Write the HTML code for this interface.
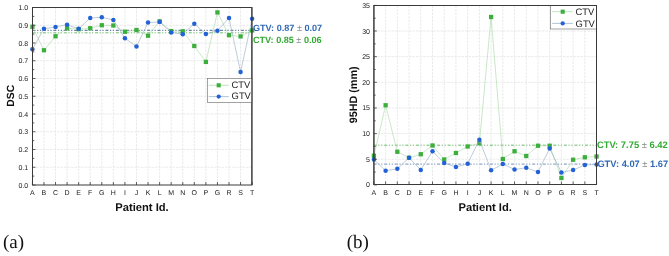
<!DOCTYPE html>
<html><head><meta charset="utf-8"><style>
html,body{margin:0;padding:0;background:#fff;width:669px;height:256px;overflow:hidden}
svg{display:block;font-family:"Liberation Sans",sans-serif;will-change:transform;text-rendering:geometricPrecision}
</style></head><body>
<svg width="669" height="256" viewBox="0 0 669 256">
<rect width="669" height="256" fill="#fff"/>
<line x1="43.96" y1="7.5" x2="43.96" y2="185.0" stroke="#e5e5e5" stroke-width="0.8" stroke-dasharray="2.5 1"/>
<line x1="55.53" y1="7.5" x2="55.53" y2="185.0" stroke="#e5e5e5" stroke-width="0.8" stroke-dasharray="2.5 1"/>
<line x1="67.09" y1="7.5" x2="67.09" y2="185.0" stroke="#e5e5e5" stroke-width="0.8" stroke-dasharray="2.5 1"/>
<line x1="78.66" y1="7.5" x2="78.66" y2="185.0" stroke="#e5e5e5" stroke-width="0.8" stroke-dasharray="2.5 1"/>
<line x1="90.22" y1="7.5" x2="90.22" y2="185.0" stroke="#e5e5e5" stroke-width="0.8" stroke-dasharray="2.5 1"/>
<line x1="101.79" y1="7.5" x2="101.79" y2="185.0" stroke="#e5e5e5" stroke-width="0.8" stroke-dasharray="2.5 1"/>
<line x1="113.35" y1="7.5" x2="113.35" y2="185.0" stroke="#e5e5e5" stroke-width="0.8" stroke-dasharray="2.5 1"/>
<line x1="124.92" y1="7.5" x2="124.92" y2="185.0" stroke="#e5e5e5" stroke-width="0.8" stroke-dasharray="2.5 1"/>
<line x1="136.48" y1="7.5" x2="136.48" y2="185.0" stroke="#e5e5e5" stroke-width="0.8" stroke-dasharray="2.5 1"/>
<line x1="148.05" y1="7.5" x2="148.05" y2="185.0" stroke="#e5e5e5" stroke-width="0.8" stroke-dasharray="2.5 1"/>
<line x1="159.61" y1="7.5" x2="159.61" y2="185.0" stroke="#e5e5e5" stroke-width="0.8" stroke-dasharray="2.5 1"/>
<line x1="171.18" y1="7.5" x2="171.18" y2="185.0" stroke="#e5e5e5" stroke-width="0.8" stroke-dasharray="2.5 1"/>
<line x1="182.75" y1="7.5" x2="182.75" y2="185.0" stroke="#e5e5e5" stroke-width="0.8" stroke-dasharray="2.5 1"/>
<line x1="194.31" y1="7.5" x2="194.31" y2="185.0" stroke="#e5e5e5" stroke-width="0.8" stroke-dasharray="2.5 1"/>
<line x1="205.88" y1="7.5" x2="205.88" y2="185.0" stroke="#e5e5e5" stroke-width="0.8" stroke-dasharray="2.5 1"/>
<line x1="217.44" y1="7.5" x2="217.44" y2="185.0" stroke="#e5e5e5" stroke-width="0.8" stroke-dasharray="2.5 1"/>
<line x1="229.00" y1="7.5" x2="229.00" y2="185.0" stroke="#e5e5e5" stroke-width="0.8" stroke-dasharray="2.5 1"/>
<line x1="240.57" y1="7.5" x2="240.57" y2="185.0" stroke="#e5e5e5" stroke-width="0.8" stroke-dasharray="2.5 1"/>
<line x1="32.5" y1="167.25" x2="251.9" y2="167.25" stroke="#e5e5e5" stroke-width="0.8" stroke-dasharray="2.5 1"/>
<line x1="32.5" y1="149.50" x2="251.9" y2="149.50" stroke="#e5e5e5" stroke-width="0.8" stroke-dasharray="2.5 1"/>
<line x1="32.5" y1="131.75" x2="251.9" y2="131.75" stroke="#e5e5e5" stroke-width="0.8" stroke-dasharray="2.5 1"/>
<line x1="32.5" y1="114.00" x2="251.9" y2="114.00" stroke="#e5e5e5" stroke-width="0.8" stroke-dasharray="2.5 1"/>
<line x1="32.5" y1="96.25" x2="251.9" y2="96.25" stroke="#e5e5e5" stroke-width="0.8" stroke-dasharray="2.5 1"/>
<line x1="32.5" y1="78.50" x2="251.9" y2="78.50" stroke="#e5e5e5" stroke-width="0.8" stroke-dasharray="2.5 1"/>
<line x1="32.5" y1="60.75" x2="251.9" y2="60.75" stroke="#e5e5e5" stroke-width="0.8" stroke-dasharray="2.5 1"/>
<line x1="32.5" y1="43.00" x2="251.9" y2="43.00" stroke="#e5e5e5" stroke-width="0.8" stroke-dasharray="2.5 1"/>
<line x1="32.5" y1="25.25" x2="251.9" y2="25.25" stroke="#e5e5e5" stroke-width="0.8" stroke-dasharray="2.5 1"/>
<line x1="32.5" y1="30.30" x2="251.9" y2="30.30" stroke="#45688f" stroke-width="1" stroke-dasharray="3.000 1.600 1.200 1.600 1.200 1.820" stroke-dashoffset="0"/>
<line x1="32.5" y1="32.80" x2="251.9" y2="32.80" stroke="#6fbf6f" stroke-width="1" stroke-dasharray="3.000 1.600 1.200 1.600 1.200 1.820" stroke-dashoffset="0"/>
<polyline points="32.40,26.75 43.96,50.25 55.53,36.25 67.09,28.25 78.66,29.20 90.22,28.25 101.79,25.25 113.35,25.50 124.92,31.75 136.48,30.00 148.05,35.70 159.61,21.30 171.18,31.10 182.75,31.30 194.31,46.00 205.88,61.90 217.44,12.40 229.00,35.20 240.57,36.40 252.13,30.40" fill="none" stroke="#a6d6a6" stroke-width="0.6"/>
<rect x="30.25" y="24.60" width="4.3" height="4.3" fill="#3cae3c"/>
<rect x="41.81" y="48.10" width="4.3" height="4.3" fill="#3cae3c"/>
<rect x="53.38" y="34.10" width="4.3" height="4.3" fill="#3cae3c"/>
<rect x="64.94" y="26.10" width="4.3" height="4.3" fill="#3cae3c"/>
<rect x="76.51" y="27.05" width="4.3" height="4.3" fill="#3cae3c"/>
<rect x="88.07" y="26.10" width="4.3" height="4.3" fill="#3cae3c"/>
<rect x="99.64" y="23.10" width="4.3" height="4.3" fill="#3cae3c"/>
<rect x="111.20" y="23.35" width="4.3" height="4.3" fill="#3cae3c"/>
<rect x="122.77" y="29.60" width="4.3" height="4.3" fill="#3cae3c"/>
<rect x="134.33" y="27.85" width="4.3" height="4.3" fill="#3cae3c"/>
<rect x="145.90" y="33.55" width="4.3" height="4.3" fill="#3cae3c"/>
<rect x="157.46" y="19.15" width="4.3" height="4.3" fill="#3cae3c"/>
<rect x="169.03" y="28.95" width="4.3" height="4.3" fill="#3cae3c"/>
<rect x="180.59" y="29.15" width="4.3" height="4.3" fill="#3cae3c"/>
<rect x="192.16" y="43.85" width="4.3" height="4.3" fill="#3cae3c"/>
<rect x="203.72" y="59.75" width="4.3" height="4.3" fill="#3cae3c"/>
<rect x="215.29" y="10.25" width="4.3" height="4.3" fill="#3cae3c"/>
<rect x="226.85" y="33.05" width="4.3" height="4.3" fill="#3cae3c"/>
<rect x="238.42" y="34.25" width="4.3" height="4.3" fill="#3cae3c"/>
<rect x="249.98" y="28.25" width="4.3" height="4.3" fill="#3cae3c"/>
<polyline points="32.40,49.25 43.96,28.75 55.53,27.00 67.09,24.75 78.66,28.75 90.22,18.00 101.79,17.25 113.35,20.00 124.92,38.25 136.48,46.50 148.05,22.50 159.61,21.90 171.18,32.40 182.75,34.20 194.31,23.75 205.88,34.00 217.44,30.70 229.00,18.00 240.57,72.00 252.13,18.75" fill="none" stroke="#94a9c0" stroke-width="0.6"/>
<circle cx="32.40" cy="49.25" r="2.25" fill="#2262d6"/>
<circle cx="43.96" cy="28.75" r="2.25" fill="#2262d6"/>
<circle cx="55.53" cy="27.00" r="2.25" fill="#2262d6"/>
<circle cx="67.09" cy="24.75" r="2.25" fill="#2262d6"/>
<circle cx="78.66" cy="28.75" r="2.25" fill="#2262d6"/>
<circle cx="90.22" cy="18.00" r="2.25" fill="#2262d6"/>
<circle cx="101.79" cy="17.25" r="2.25" fill="#2262d6"/>
<circle cx="113.35" cy="20.00" r="2.25" fill="#2262d6"/>
<circle cx="124.92" cy="38.25" r="2.25" fill="#2262d6"/>
<circle cx="136.48" cy="46.50" r="2.25" fill="#2262d6"/>
<circle cx="148.05" cy="22.50" r="2.25" fill="#2262d6"/>
<circle cx="159.61" cy="21.90" r="2.25" fill="#2262d6"/>
<circle cx="171.18" cy="32.40" r="2.25" fill="#2262d6"/>
<circle cx="182.75" cy="34.20" r="2.25" fill="#2262d6"/>
<circle cx="194.31" cy="23.75" r="2.25" fill="#2262d6"/>
<circle cx="205.88" cy="34.00" r="2.25" fill="#2262d6"/>
<circle cx="217.44" cy="30.70" r="2.25" fill="#2262d6"/>
<circle cx="229.00" cy="18.00" r="2.25" fill="#2262d6"/>
<circle cx="240.57" cy="72.00" r="2.25" fill="#2262d6"/>
<circle cx="252.13" cy="18.75" r="2.25" fill="#2262d6"/>
<rect x="32.5" y="7.5" width="219.4" height="177.5" fill="none" stroke="#3a3a3a" stroke-width="1"/>
<line x1="32.5" y1="185.00" x2="35.5" y2="185.00" stroke="#3a3a3a" stroke-width="0.8"/>
<text x="28.2" y="187.50" text-anchor="end" font-size="7" fill="#222">0.0</text>
<line x1="32.5" y1="167.25" x2="35.5" y2="167.25" stroke="#3a3a3a" stroke-width="0.8"/>
<text x="28.2" y="169.75" text-anchor="end" font-size="7" fill="#222">0.1</text>
<line x1="32.5" y1="149.50" x2="35.5" y2="149.50" stroke="#3a3a3a" stroke-width="0.8"/>
<text x="28.2" y="152.00" text-anchor="end" font-size="7" fill="#222">0.2</text>
<line x1="32.5" y1="131.75" x2="35.5" y2="131.75" stroke="#3a3a3a" stroke-width="0.8"/>
<text x="28.2" y="134.25" text-anchor="end" font-size="7" fill="#222">0.3</text>
<line x1="32.5" y1="114.00" x2="35.5" y2="114.00" stroke="#3a3a3a" stroke-width="0.8"/>
<text x="28.2" y="116.50" text-anchor="end" font-size="7" fill="#222">0.4</text>
<line x1="32.5" y1="96.25" x2="35.5" y2="96.25" stroke="#3a3a3a" stroke-width="0.8"/>
<text x="28.2" y="98.75" text-anchor="end" font-size="7" fill="#222">0.5</text>
<line x1="32.5" y1="78.50" x2="35.5" y2="78.50" stroke="#3a3a3a" stroke-width="0.8"/>
<text x="28.2" y="81.00" text-anchor="end" font-size="7" fill="#222">0.6</text>
<line x1="32.5" y1="60.75" x2="35.5" y2="60.75" stroke="#3a3a3a" stroke-width="0.8"/>
<text x="28.2" y="63.25" text-anchor="end" font-size="7" fill="#222">0.7</text>
<line x1="32.5" y1="43.00" x2="35.5" y2="43.00" stroke="#3a3a3a" stroke-width="0.8"/>
<text x="28.2" y="45.50" text-anchor="end" font-size="7" fill="#222">0.8</text>
<line x1="32.5" y1="25.25" x2="35.5" y2="25.25" stroke="#3a3a3a" stroke-width="0.8"/>
<text x="28.2" y="27.75" text-anchor="end" font-size="7" fill="#222">0.9</text>
<line x1="32.5" y1="7.50" x2="35.5" y2="7.50" stroke="#3a3a3a" stroke-width="0.8"/>
<text x="28.2" y="10.00" text-anchor="end" font-size="7" fill="#222">1.0</text>
<line x1="32.5" y1="176.12" x2="34.3" y2="176.12" stroke="#3a3a3a" stroke-width="0.8"/>
<line x1="32.5" y1="158.38" x2="34.3" y2="158.38" stroke="#3a3a3a" stroke-width="0.8"/>
<line x1="32.5" y1="140.62" x2="34.3" y2="140.62" stroke="#3a3a3a" stroke-width="0.8"/>
<line x1="32.5" y1="122.88" x2="34.3" y2="122.88" stroke="#3a3a3a" stroke-width="0.8"/>
<line x1="32.5" y1="105.12" x2="34.3" y2="105.12" stroke="#3a3a3a" stroke-width="0.8"/>
<line x1="32.5" y1="87.37" x2="34.3" y2="87.37" stroke="#3a3a3a" stroke-width="0.8"/>
<line x1="32.5" y1="69.62" x2="34.3" y2="69.62" stroke="#3a3a3a" stroke-width="0.8"/>
<line x1="32.5" y1="51.88" x2="34.3" y2="51.88" stroke="#3a3a3a" stroke-width="0.8"/>
<line x1="32.5" y1="34.12" x2="34.3" y2="34.12" stroke="#3a3a3a" stroke-width="0.8"/>
<line x1="32.5" y1="16.38" x2="34.3" y2="16.38" stroke="#3a3a3a" stroke-width="0.8"/>
<line x1="32.40" y1="185.0" x2="32.40" y2="182.0" stroke="#3a3a3a" stroke-width="0.8"/>
<text x="32.40" y="194.6" text-anchor="middle" font-size="7" fill="#222">A</text>
<line x1="43.96" y1="185.0" x2="43.96" y2="182.0" stroke="#3a3a3a" stroke-width="0.8"/>
<text x="43.96" y="194.6" text-anchor="middle" font-size="7" fill="#222">B</text>
<line x1="55.53" y1="185.0" x2="55.53" y2="182.0" stroke="#3a3a3a" stroke-width="0.8"/>
<text x="55.53" y="194.6" text-anchor="middle" font-size="7" fill="#222">C</text>
<line x1="67.09" y1="185.0" x2="67.09" y2="182.0" stroke="#3a3a3a" stroke-width="0.8"/>
<text x="67.09" y="194.6" text-anchor="middle" font-size="7" fill="#222">D</text>
<line x1="78.66" y1="185.0" x2="78.66" y2="182.0" stroke="#3a3a3a" stroke-width="0.8"/>
<text x="78.66" y="194.6" text-anchor="middle" font-size="7" fill="#222">E</text>
<line x1="90.22" y1="185.0" x2="90.22" y2="182.0" stroke="#3a3a3a" stroke-width="0.8"/>
<text x="90.22" y="194.6" text-anchor="middle" font-size="7" fill="#222">F</text>
<line x1="101.79" y1="185.0" x2="101.79" y2="182.0" stroke="#3a3a3a" stroke-width="0.8"/>
<text x="101.79" y="194.6" text-anchor="middle" font-size="7" fill="#222">G</text>
<line x1="113.35" y1="185.0" x2="113.35" y2="182.0" stroke="#3a3a3a" stroke-width="0.8"/>
<text x="113.35" y="194.6" text-anchor="middle" font-size="7" fill="#222">H</text>
<line x1="124.92" y1="185.0" x2="124.92" y2="182.0" stroke="#3a3a3a" stroke-width="0.8"/>
<text x="124.92" y="194.6" text-anchor="middle" font-size="7" fill="#222">I</text>
<line x1="136.48" y1="185.0" x2="136.48" y2="182.0" stroke="#3a3a3a" stroke-width="0.8"/>
<text x="136.48" y="194.6" text-anchor="middle" font-size="7" fill="#222">J</text>
<line x1="148.05" y1="185.0" x2="148.05" y2="182.0" stroke="#3a3a3a" stroke-width="0.8"/>
<text x="148.05" y="194.6" text-anchor="middle" font-size="7" fill="#222">K</text>
<line x1="159.61" y1="185.0" x2="159.61" y2="182.0" stroke="#3a3a3a" stroke-width="0.8"/>
<text x="159.61" y="194.6" text-anchor="middle" font-size="7" fill="#222">L</text>
<line x1="171.18" y1="185.0" x2="171.18" y2="182.0" stroke="#3a3a3a" stroke-width="0.8"/>
<text x="171.18" y="194.6" text-anchor="middle" font-size="7" fill="#222">M</text>
<line x1="182.75" y1="185.0" x2="182.75" y2="182.0" stroke="#3a3a3a" stroke-width="0.8"/>
<text x="182.75" y="194.6" text-anchor="middle" font-size="7" fill="#222">N</text>
<line x1="194.31" y1="185.0" x2="194.31" y2="182.0" stroke="#3a3a3a" stroke-width="0.8"/>
<text x="194.31" y="194.6" text-anchor="middle" font-size="7" fill="#222">O</text>
<line x1="205.88" y1="185.0" x2="205.88" y2="182.0" stroke="#3a3a3a" stroke-width="0.8"/>
<text x="205.88" y="194.6" text-anchor="middle" font-size="7" fill="#222">P</text>
<line x1="217.44" y1="185.0" x2="217.44" y2="182.0" stroke="#3a3a3a" stroke-width="0.8"/>
<text x="217.44" y="194.6" text-anchor="middle" font-size="7" fill="#222">G</text>
<line x1="229.00" y1="185.0" x2="229.00" y2="182.0" stroke="#3a3a3a" stroke-width="0.8"/>
<text x="229.00" y="194.6" text-anchor="middle" font-size="7" fill="#222">R</text>
<line x1="240.57" y1="185.0" x2="240.57" y2="182.0" stroke="#3a3a3a" stroke-width="0.8"/>
<text x="240.57" y="194.6" text-anchor="middle" font-size="7" fill="#222">S</text>
<line x1="252.13" y1="185.0" x2="252.13" y2="182.0" stroke="#3a3a3a" stroke-width="0.8"/>
<text x="252.13" y="194.6" text-anchor="middle" font-size="7" fill="#222">T</text>
<rect x="207.3" y="78.5" width="44.7" height="23.8" fill="#fff" stroke="#666" stroke-width="0.6"/>
<line x1="208.7" y1="85.3" x2="228.8" y2="85.3" stroke="#a6d6a6" stroke-width="0.7"/>
<rect x="216.65" y="83.25" width="4.1" height="4.1" fill="#3cae3c"/>
<line x1="208.7" y1="96.6" x2="228.8" y2="96.6" stroke="#94a9c0" stroke-width="0.7"/>
<circle cx="218.7" cy="96.6" r="2.15" fill="#2262d6"/>
<text x="231.6" y="88.3" font-size="9.4" fill="#222">CTV</text>
<text x="231.6" y="99.4" font-size="9.4" fill="#222">GTV</text>
<line x1="251.9" y1="7.5" x2="251.9" y2="185.0" stroke="#3a3a3a" stroke-width="1"/>
<text x="252.9" y="31.4" font-size="9.1" font-weight="bold" fill="#3069b6">GTV: 0.87 <tspan font-weight="normal" fill="#8a8a8a">±</tspan> 0.07</text>
<text x="252.9" y="42.6" font-size="9.1" font-weight="bold" fill="#33aa33">CTV: 0.85 <tspan font-weight="normal" fill="#8a8a8a">±</tspan> 0.06</text>
<text x="142" y="210.5" text-anchor="middle" font-size="11.2" font-weight="bold" fill="#111">Patient Id.</text>
<text transform="translate(14.1,95.7) rotate(-90)" text-anchor="middle" font-size="10.4" font-weight="bold" fill="#111">DSC</text>
<text x="3" y="247.8" font-family="Liberation Serif, serif" font-size="19" fill="#111">(a)</text>
<line x1="385.62" y1="5.5" x2="385.62" y2="184.5" stroke="#e5e5e5" stroke-width="0.8" stroke-dasharray="2.5 1"/>
<line x1="397.34" y1="5.5" x2="397.34" y2="184.5" stroke="#e5e5e5" stroke-width="0.8" stroke-dasharray="2.5 1"/>
<line x1="409.06" y1="5.5" x2="409.06" y2="184.5" stroke="#e5e5e5" stroke-width="0.8" stroke-dasharray="2.5 1"/>
<line x1="420.78" y1="5.5" x2="420.78" y2="184.5" stroke="#e5e5e5" stroke-width="0.8" stroke-dasharray="2.5 1"/>
<line x1="432.50" y1="5.5" x2="432.50" y2="184.5" stroke="#e5e5e5" stroke-width="0.8" stroke-dasharray="2.5 1"/>
<line x1="444.22" y1="5.5" x2="444.22" y2="184.5" stroke="#e5e5e5" stroke-width="0.8" stroke-dasharray="2.5 1"/>
<line x1="455.94" y1="5.5" x2="455.94" y2="184.5" stroke="#e5e5e5" stroke-width="0.8" stroke-dasharray="2.5 1"/>
<line x1="467.66" y1="5.5" x2="467.66" y2="184.5" stroke="#e5e5e5" stroke-width="0.8" stroke-dasharray="2.5 1"/>
<line x1="479.38" y1="5.5" x2="479.38" y2="184.5" stroke="#e5e5e5" stroke-width="0.8" stroke-dasharray="2.5 1"/>
<line x1="491.10" y1="5.5" x2="491.10" y2="184.5" stroke="#e5e5e5" stroke-width="0.8" stroke-dasharray="2.5 1"/>
<line x1="502.82" y1="5.5" x2="502.82" y2="184.5" stroke="#e5e5e5" stroke-width="0.8" stroke-dasharray="2.5 1"/>
<line x1="514.54" y1="5.5" x2="514.54" y2="184.5" stroke="#e5e5e5" stroke-width="0.8" stroke-dasharray="2.5 1"/>
<line x1="526.26" y1="5.5" x2="526.26" y2="184.5" stroke="#e5e5e5" stroke-width="0.8" stroke-dasharray="2.5 1"/>
<line x1="537.98" y1="5.5" x2="537.98" y2="184.5" stroke="#e5e5e5" stroke-width="0.8" stroke-dasharray="2.5 1"/>
<line x1="549.70" y1="5.5" x2="549.70" y2="184.5" stroke="#e5e5e5" stroke-width="0.8" stroke-dasharray="2.5 1"/>
<line x1="561.42" y1="5.5" x2="561.42" y2="184.5" stroke="#e5e5e5" stroke-width="0.8" stroke-dasharray="2.5 1"/>
<line x1="573.14" y1="5.5" x2="573.14" y2="184.5" stroke="#e5e5e5" stroke-width="0.8" stroke-dasharray="2.5 1"/>
<line x1="584.86" y1="5.5" x2="584.86" y2="184.5" stroke="#e5e5e5" stroke-width="0.8" stroke-dasharray="2.5 1"/>
<line x1="373.9" y1="159.25" x2="596.5" y2="159.25" stroke="#e5e5e5" stroke-width="0.8" stroke-dasharray="2.5 1"/>
<line x1="373.9" y1="133.61" x2="596.5" y2="133.61" stroke="#e5e5e5" stroke-width="0.8" stroke-dasharray="2.5 1"/>
<line x1="373.9" y1="107.97" x2="596.5" y2="107.97" stroke="#e5e5e5" stroke-width="0.8" stroke-dasharray="2.5 1"/>
<line x1="373.9" y1="82.32" x2="596.5" y2="82.32" stroke="#e5e5e5" stroke-width="0.8" stroke-dasharray="2.5 1"/>
<line x1="373.9" y1="56.68" x2="596.5" y2="56.68" stroke="#e5e5e5" stroke-width="0.8" stroke-dasharray="2.5 1"/>
<line x1="373.9" y1="31.03" x2="596.5" y2="31.03" stroke="#e5e5e5" stroke-width="0.8" stroke-dasharray="2.5 1"/>
<line x1="373.9" y1="145.20" x2="596.5" y2="145.20" stroke="#6cb86c" stroke-width="1" stroke-dasharray="3.043 1.623 1.217 1.623 1.217 1.846" stroke-dashoffset="0.27"/>
<line x1="373.9" y1="164.10" x2="596.5" y2="164.10" stroke="#7393b8" stroke-width="1" stroke-dasharray="3.043 1.623 1.217 1.623 1.217 1.846" stroke-dashoffset="0.27"/>
<polyline points="373.90,155.75 385.62,105.25 397.34,151.75 409.06,157.80 420.78,154.25 432.50,145.50 444.22,159.50 455.94,153.00 467.66,146.50 479.38,143.25 491.10,17.00 502.82,159.00 514.54,151.25 526.26,156.00 537.98,145.75 549.70,145.75 561.42,178.00 573.14,159.75 584.86,157.30 596.58,156.50" fill="none" stroke="#a6d6a6" stroke-width="0.6"/>
<rect x="371.75" y="153.60" width="4.3" height="4.3" fill="#3cae3c"/>
<rect x="383.47" y="103.10" width="4.3" height="4.3" fill="#3cae3c"/>
<rect x="395.19" y="149.60" width="4.3" height="4.3" fill="#3cae3c"/>
<rect x="406.91" y="155.65" width="4.3" height="4.3" fill="#3cae3c"/>
<rect x="418.63" y="152.10" width="4.3" height="4.3" fill="#3cae3c"/>
<rect x="430.35" y="143.35" width="4.3" height="4.3" fill="#3cae3c"/>
<rect x="442.07" y="157.35" width="4.3" height="4.3" fill="#3cae3c"/>
<rect x="453.79" y="150.85" width="4.3" height="4.3" fill="#3cae3c"/>
<rect x="465.51" y="144.35" width="4.3" height="4.3" fill="#3cae3c"/>
<rect x="477.23" y="141.10" width="4.3" height="4.3" fill="#3cae3c"/>
<rect x="488.95" y="14.85" width="4.3" height="4.3" fill="#3cae3c"/>
<rect x="500.67" y="156.85" width="4.3" height="4.3" fill="#3cae3c"/>
<rect x="512.39" y="149.10" width="4.3" height="4.3" fill="#3cae3c"/>
<rect x="524.11" y="153.85" width="4.3" height="4.3" fill="#3cae3c"/>
<rect x="535.83" y="143.60" width="4.3" height="4.3" fill="#3cae3c"/>
<rect x="547.55" y="143.60" width="4.3" height="4.3" fill="#3cae3c"/>
<rect x="559.27" y="175.85" width="4.3" height="4.3" fill="#3cae3c"/>
<rect x="570.99" y="157.60" width="4.3" height="4.3" fill="#3cae3c"/>
<rect x="582.71" y="155.15" width="4.3" height="4.3" fill="#3cae3c"/>
<rect x="594.43" y="154.35" width="4.3" height="4.3" fill="#3cae3c"/>
<polyline points="373.90,159.50 385.62,170.75 397.34,168.75 409.06,157.75 420.78,170.00 432.50,151.25 444.22,163.00 455.94,167.00 467.66,163.75 479.38,139.80 491.10,170.25 502.82,164.00 514.54,169.50 526.26,167.75 537.98,172.00 549.70,148.50 561.42,172.50 573.14,170.00 584.86,165.00 596.58,164.50" fill="none" stroke="#94a9c0" stroke-width="0.6"/>
<circle cx="373.90" cy="159.50" r="2.25" fill="#2262d6"/>
<circle cx="385.62" cy="170.75" r="2.25" fill="#2262d6"/>
<circle cx="397.34" cy="168.75" r="2.25" fill="#2262d6"/>
<circle cx="409.06" cy="157.75" r="2.25" fill="#2262d6"/>
<circle cx="420.78" cy="170.00" r="2.25" fill="#2262d6"/>
<circle cx="432.50" cy="151.25" r="2.25" fill="#2262d6"/>
<circle cx="444.22" cy="163.00" r="2.25" fill="#2262d6"/>
<circle cx="455.94" cy="167.00" r="2.25" fill="#2262d6"/>
<circle cx="467.66" cy="163.75" r="2.25" fill="#2262d6"/>
<circle cx="479.38" cy="139.80" r="2.25" fill="#2262d6"/>
<circle cx="491.10" cy="170.25" r="2.25" fill="#2262d6"/>
<circle cx="502.82" cy="164.00" r="2.25" fill="#2262d6"/>
<circle cx="514.54" cy="169.50" r="2.25" fill="#2262d6"/>
<circle cx="526.26" cy="167.75" r="2.25" fill="#2262d6"/>
<circle cx="537.98" cy="172.00" r="2.25" fill="#2262d6"/>
<circle cx="549.70" cy="148.50" r="2.25" fill="#2262d6"/>
<circle cx="561.42" cy="172.50" r="2.25" fill="#2262d6"/>
<circle cx="573.14" cy="170.00" r="2.25" fill="#2262d6"/>
<circle cx="584.86" cy="165.00" r="2.25" fill="#2262d6"/>
<circle cx="596.58" cy="164.50" r="2.25" fill="#2262d6"/>
<rect x="373.9" y="5.5" width="222.60" height="179.00" fill="none" stroke="#3a3a3a" stroke-width="1"/>
<line x1="373.9" y1="184.90" x2="376.9" y2="184.90" stroke="#3a3a3a" stroke-width="0.8"/>
<text x="370" y="187.40" text-anchor="end" font-size="7" fill="#222">0</text>
<line x1="373.9" y1="159.25" x2="376.9" y2="159.25" stroke="#3a3a3a" stroke-width="0.8"/>
<text x="370" y="161.75" text-anchor="end" font-size="7" fill="#222">5</text>
<line x1="373.9" y1="133.61" x2="376.9" y2="133.61" stroke="#3a3a3a" stroke-width="0.8"/>
<text x="370" y="136.11" text-anchor="end" font-size="7" fill="#222">10</text>
<line x1="373.9" y1="107.97" x2="376.9" y2="107.97" stroke="#3a3a3a" stroke-width="0.8"/>
<text x="370" y="110.47" text-anchor="end" font-size="7" fill="#222">15</text>
<line x1="373.9" y1="82.32" x2="376.9" y2="82.32" stroke="#3a3a3a" stroke-width="0.8"/>
<text x="370" y="84.82" text-anchor="end" font-size="7" fill="#222">20</text>
<line x1="373.9" y1="56.68" x2="376.9" y2="56.68" stroke="#3a3a3a" stroke-width="0.8"/>
<text x="370" y="59.18" text-anchor="end" font-size="7" fill="#222">25</text>
<line x1="373.9" y1="31.03" x2="376.9" y2="31.03" stroke="#3a3a3a" stroke-width="0.8"/>
<text x="370" y="33.53" text-anchor="end" font-size="7" fill="#222">30</text>
<line x1="373.9" y1="5.39" x2="376.9" y2="5.39" stroke="#3a3a3a" stroke-width="0.8"/>
<text x="370" y="7.89" text-anchor="end" font-size="7" fill="#222">35</text>
<line x1="373.9" y1="172.08" x2="375.7" y2="172.08" stroke="#3a3a3a" stroke-width="0.8"/>
<line x1="373.9" y1="146.43" x2="375.7" y2="146.43" stroke="#3a3a3a" stroke-width="0.8"/>
<line x1="373.9" y1="120.79" x2="375.7" y2="120.79" stroke="#3a3a3a" stroke-width="0.8"/>
<line x1="373.9" y1="95.14" x2="375.7" y2="95.14" stroke="#3a3a3a" stroke-width="0.8"/>
<line x1="373.9" y1="69.50" x2="375.7" y2="69.50" stroke="#3a3a3a" stroke-width="0.8"/>
<line x1="373.9" y1="43.85" x2="375.7" y2="43.85" stroke="#3a3a3a" stroke-width="0.8"/>
<line x1="373.9" y1="18.21" x2="375.7" y2="18.21" stroke="#3a3a3a" stroke-width="0.8"/>
<line x1="373.90" y1="184.5" x2="373.90" y2="181.5" stroke="#3a3a3a" stroke-width="0.8"/>
<text x="373.90" y="194.6" text-anchor="middle" font-size="7" fill="#222">A</text>
<line x1="385.62" y1="184.5" x2="385.62" y2="181.5" stroke="#3a3a3a" stroke-width="0.8"/>
<text x="385.62" y="194.6" text-anchor="middle" font-size="7" fill="#222">B</text>
<line x1="397.34" y1="184.5" x2="397.34" y2="181.5" stroke="#3a3a3a" stroke-width="0.8"/>
<text x="397.34" y="194.6" text-anchor="middle" font-size="7" fill="#222">C</text>
<line x1="409.06" y1="184.5" x2="409.06" y2="181.5" stroke="#3a3a3a" stroke-width="0.8"/>
<text x="409.06" y="194.6" text-anchor="middle" font-size="7" fill="#222">D</text>
<line x1="420.78" y1="184.5" x2="420.78" y2="181.5" stroke="#3a3a3a" stroke-width="0.8"/>
<text x="420.78" y="194.6" text-anchor="middle" font-size="7" fill="#222">E</text>
<line x1="432.50" y1="184.5" x2="432.50" y2="181.5" stroke="#3a3a3a" stroke-width="0.8"/>
<text x="432.50" y="194.6" text-anchor="middle" font-size="7" fill="#222">F</text>
<line x1="444.22" y1="184.5" x2="444.22" y2="181.5" stroke="#3a3a3a" stroke-width="0.8"/>
<text x="444.22" y="194.6" text-anchor="middle" font-size="7" fill="#222">G</text>
<line x1="455.94" y1="184.5" x2="455.94" y2="181.5" stroke="#3a3a3a" stroke-width="0.8"/>
<text x="455.94" y="194.6" text-anchor="middle" font-size="7" fill="#222">H</text>
<line x1="467.66" y1="184.5" x2="467.66" y2="181.5" stroke="#3a3a3a" stroke-width="0.8"/>
<text x="467.66" y="194.6" text-anchor="middle" font-size="7" fill="#222">I</text>
<line x1="479.38" y1="184.5" x2="479.38" y2="181.5" stroke="#3a3a3a" stroke-width="0.8"/>
<text x="479.38" y="194.6" text-anchor="middle" font-size="7" fill="#222">J</text>
<line x1="491.10" y1="184.5" x2="491.10" y2="181.5" stroke="#3a3a3a" stroke-width="0.8"/>
<text x="491.10" y="194.6" text-anchor="middle" font-size="7" fill="#222">K</text>
<line x1="502.82" y1="184.5" x2="502.82" y2="181.5" stroke="#3a3a3a" stroke-width="0.8"/>
<text x="502.82" y="194.6" text-anchor="middle" font-size="7" fill="#222">L</text>
<line x1="514.54" y1="184.5" x2="514.54" y2="181.5" stroke="#3a3a3a" stroke-width="0.8"/>
<text x="514.54" y="194.6" text-anchor="middle" font-size="7" fill="#222">M</text>
<line x1="526.26" y1="184.5" x2="526.26" y2="181.5" stroke="#3a3a3a" stroke-width="0.8"/>
<text x="526.26" y="194.6" text-anchor="middle" font-size="7" fill="#222">N</text>
<line x1="537.98" y1="184.5" x2="537.98" y2="181.5" stroke="#3a3a3a" stroke-width="0.8"/>
<text x="537.98" y="194.6" text-anchor="middle" font-size="7" fill="#222">O</text>
<line x1="549.70" y1="184.5" x2="549.70" y2="181.5" stroke="#3a3a3a" stroke-width="0.8"/>
<text x="549.70" y="194.6" text-anchor="middle" font-size="7" fill="#222">P</text>
<line x1="561.42" y1="184.5" x2="561.42" y2="181.5" stroke="#3a3a3a" stroke-width="0.8"/>
<text x="561.42" y="194.6" text-anchor="middle" font-size="7" fill="#222">G</text>
<line x1="573.14" y1="184.5" x2="573.14" y2="181.5" stroke="#3a3a3a" stroke-width="0.8"/>
<text x="573.14" y="194.6" text-anchor="middle" font-size="7" fill="#222">R</text>
<line x1="584.86" y1="184.5" x2="584.86" y2="181.5" stroke="#3a3a3a" stroke-width="0.8"/>
<text x="584.86" y="194.6" text-anchor="middle" font-size="7" fill="#222">S</text>
<line x1="596.58" y1="184.5" x2="596.58" y2="181.5" stroke="#3a3a3a" stroke-width="0.8"/>
<text x="596.58" y="194.6" text-anchor="middle" font-size="7" fill="#222">T</text>
<rect x="550.6" y="5.5" width="45.90" height="23.5" fill="#fff" stroke="#666" stroke-width="0.6"/>
<line x1="552.2" y1="11.7" x2="572.8" y2="11.7" stroke="#a6d6a6" stroke-width="0.7"/>
<rect x="560.65" y="9.65" width="4.1" height="4.1" fill="#3cae3c"/>
<line x1="552.2" y1="23.4" x2="572.8" y2="23.4" stroke="#94a9c0" stroke-width="0.7"/>
<circle cx="562.7" cy="23.4" r="2.15" fill="#2262d6"/>
<text x="575.6" y="15.2" font-size="9.4" fill="#222">CTV</text>
<text x="575.6" y="26.6" font-size="9.4" fill="#222">GTV</text>
<rect x="373.9" y="5.5" width="222.60" height="179.00" fill="none" stroke="#3a3a3a" stroke-width="1"/>
<text x="596.9" y="148.4" font-size="9.4" font-weight="bold" fill="#33aa33">CTV: 7.75 <tspan font-weight="normal" fill="#8a8a8a">±</tspan> 6.42</text>
<text x="597.4" y="166.9" font-size="9.3" font-weight="bold" fill="#3069b6">GTV: 4.07 <tspan font-weight="normal" fill="#8a8a8a">±</tspan> 1.67</text>
<text x="485.2" y="210.5" text-anchor="middle" font-size="11.2" font-weight="bold" fill="#111">Patient Id.</text>
<text transform="translate(356.9,94.85) rotate(-90)" text-anchor="middle" font-size="10.8" font-weight="bold" fill="#111">95HD (mm)</text>
<text x="346.8" y="247.8" font-family="Liberation Serif, serif" font-size="19" fill="#111">(b)</text>
</svg>
</body></html>
